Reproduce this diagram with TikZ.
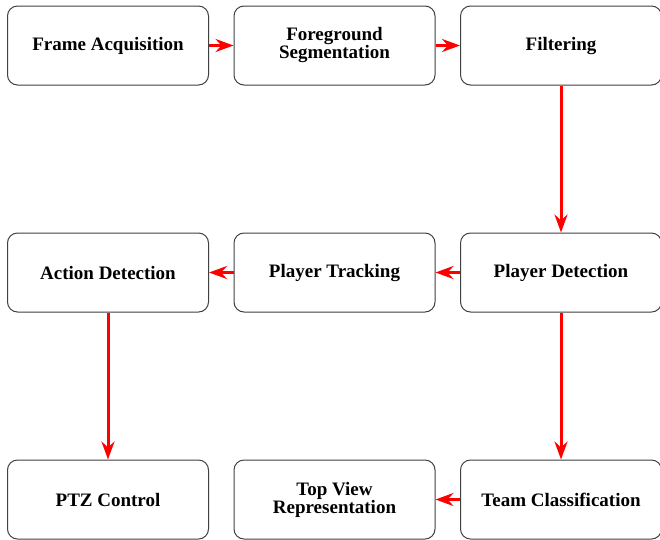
\documentclass[tikz,border=0pt]{standalone}
\usepackage{fontspec}
\setmainfont{Liberation Serif}[BoldFont={Liberation Serif Bold}]
\usepackage{tikz}
\usetikzlibrary{arrows.meta, positioning}
\tikzset{
  stage/.style={rectangle, rounded corners=10pt, draw=black!75, line width=1pt, fill=white, minimum width=201pt, minimum height=79pt, align=center, font=\rmfamily\fontsize{19}{18}\selectfont\bfseries},
  flow/.style={-{Stealth[length=18pt, width=13pt, inset=6pt]}, line width=3pt, red},
}
\begin{document}
\begin{tikzpicture}[node distance=147pt and 24.5pt]
\useasboundingbox (0,0) rectangle (660pt,-539pt);
\node[stage] (acq) at (108pt,-45.5pt) {Frame Acquisition};
\node[stage, right=of acq] (seg) {Foreground\\Segmentation};
\node[stage, right=of seg] (filt) {Filtering};
\node[stage, below=of filt] (pdet) {Player Detection};
\node[stage, left=of pdet] (ptrack) {Player Tracking};
\node[stage, left=of ptrack] (adet) {Action Detection};
\node[stage, below=of pdet] (team) {Team Classification};
\node[stage, left=of team] (topv) {Top View\\Representation};
\node[stage, below=of adet] (ptz) {PTZ Control};
\draw[flow](acq)--(seg); \draw[flow](seg)--(filt);
\draw[flow](filt)--(pdet);
\draw[flow](pdet)--(ptrack); \draw[flow](ptrack)--(adet);
\draw[flow](adet)--(ptz);
\draw[flow](pdet)--(team); \draw[flow](team)--(topv);
\end{tikzpicture}
\end{document}
